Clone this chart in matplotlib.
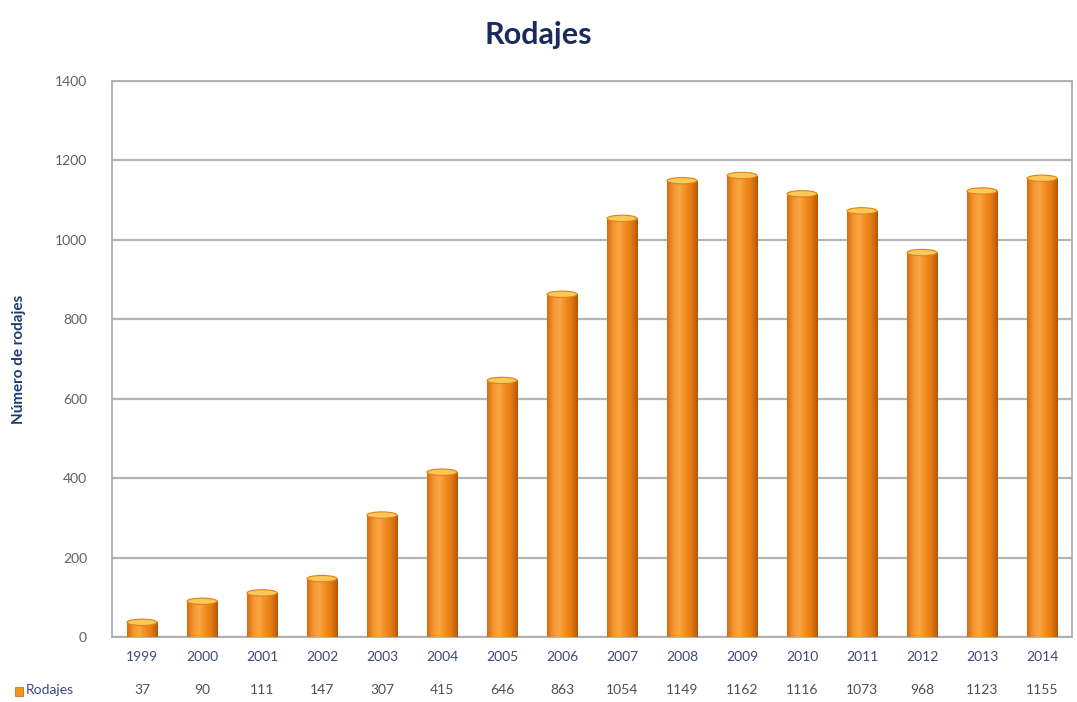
import numpy as np
import matplotlib
matplotlib.use("Agg")
from matplotlib import pyplot as plt
from matplotlib.colors import LinearSegmentedColormap
from matplotlib.patches import Rectangle, Ellipse
import matplotlib.transforms as mtransforms

years = ["1999", "2000", "2001", "2002", "2003", "2004", "2005", "2006",
         "2007", "2008", "2009", "2010", "2011", "2012", "2013", "2014"]
rodajes = [37, 90, 111, 147, 307, 415, 646, 863,
           1054, 1149, 1162, 1116, 1073, 968, 1123, 1155]
series_name = "Rodajes"

plt.rcParams['font.family'] = ['Lato', 'DejaVu Sans']

fig = plt.figure(figsize=(10.77, 7.02), dpi=100)
ax = fig.add_axes([0.104, 0.0926, 0.8914, 0.792])

x = np.arange(len(years))
w = 0.5
ax.set_xlim(-0.5, len(years) - 0.5)
ax.set_ylim(0, 1400)

# horizontal gradient for a rounded/3d bar look
bar_cmap = LinearSegmentedColormap.from_list(
    "bar", ["#d66c0c", "#f49530", "#f8a845", "#f28d22", "#e27a10", "#b65808"])
grad = np.linspace(0, 1, 64).reshape(1, -1)

bars = ax.bar(x, rodajes, width=w, color="#f08a1c", zorder=2)
for b in bars:
    x0, y0 = b.get_x(), b.get_y()
    bw, bh = b.get_width(), b.get_height()
    im = ax.imshow(grad, cmap=bar_cmap, aspect="auto",
                   extent=[x0, x0 + bw, y0, y0 + bh], zorder=3)
    im.set_clip_path(b)
    # lighter top cap
    cap = Ellipse((x0 + bw / 2, y0 + bh), bw, 16, facecolor="#fcc85a",
                  edgecolor="#e0801a", lw=0.8, zorder=4)
    ax.add_patch(cap)

ax.set_yticks(np.arange(0, 1401, 200))
ax.yaxis.grid(True, color="#b4b4b4", lw=1.6, zorder=0)
ax.set_axisbelow(True)
for s in ["top", "right", "left", "bottom"]:
    ax.spines[s].set_color("#a8a8a8")
    ax.spines[s].set_linewidth(1.2)
ax.tick_params(axis="y", length=0, pad=18, labelsize=10, labelcolor="#606060")

ax.set_xticks(x)
ax.set_xticklabels(years, fontsize=10, color="#3c4a78")
ax.tick_params(axis="x", length=0, pad=10)

# data table row with the values
trans = mtransforms.blended_transform_factory(ax.transData, ax.transAxes)
for xi, v in zip(x, rodajes):
    ax.text(xi, -0.096, str(v), transform=trans, ha="center", va="center",
            fontsize=10, color="#505050")

# legend key in table
fig.patches.append(Rectangle((0.014, 0.009), 0.007, 0.012,
                             transform=fig.transFigure, facecolor="#f0961e",
                             edgecolor="#b86010", lw=0.5))
fig.text(0.024, 0.0165, series_name, fontsize=10, color="#3c4a78",
         ha="left", va="center")

ax.set_ylabel("Número de rodajes", fontsize=11, fontweight="bold",
              color="#1f3b73")
ax.yaxis.set_label_coords(-0.09, 0.5)

fig.suptitle("Rodajes", x=0.5, y=0.97, fontsize=22, fontweight="bold",
             color="#1b2a5e")

fig.savefig("out.png", dpi=100)
